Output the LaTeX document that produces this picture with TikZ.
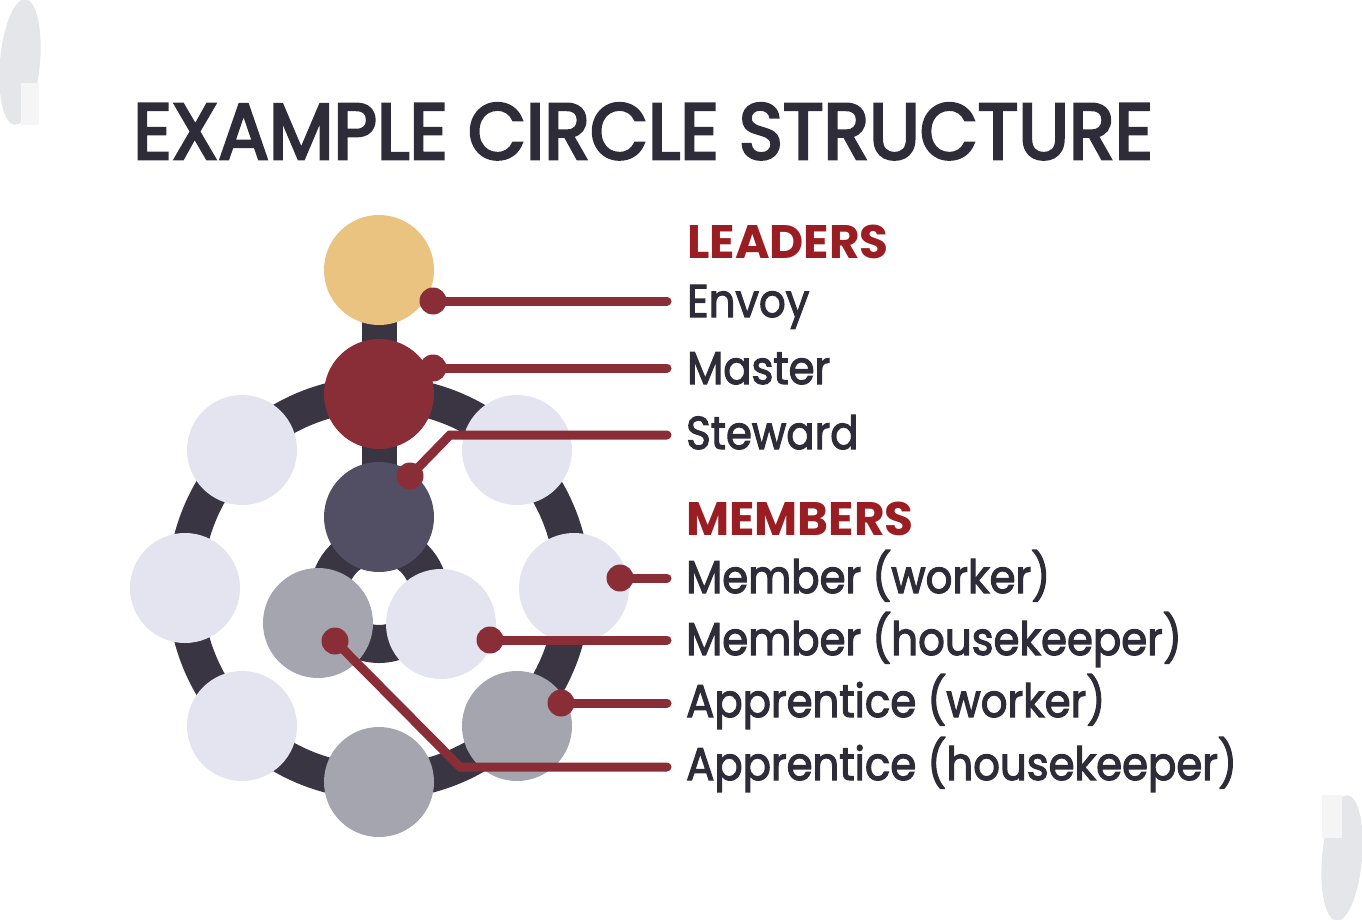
\documentclass[tikz,border=0pt]{standalone}
\usepackage{fontspec}
\setmainfont{Poppins}
\newfontfamily\titlefont{Poppins}[FakeStretch=0.95, FakeBold=3.5]
\newfontfamily\entryfont{Poppins}[FakeStretch=0.91, FakeBold=2.5]
\usetikzlibrary{backgrounds}

\definecolor{gold}{HTML}{EAC381}
\definecolor{crimson}{HTML}{892D36}
\definecolor{slate}{HTML}{524E64}
\definecolor{ringdark}{HTML}{3A3543}
\definecolor{pale}{HTML}{E4E4F0}
\definecolor{greyc}{HTML}{A5A5AF}
\definecolor{ink}{HTML}{2F2C39}
\definecolor{headred}{HTML}{9A1D23}
\definecolor{decogrey}{HTML}{E5E6E9}
\definecolor{decolight}{HTML}{F5F5F6}

\tikzset{
  person/.style={circle, minimum size=110, inner sep=0pt},
  dot/.style={circle, fill=crimson, minimum size=27, inner sep=0pt},
  leader/.style={draw=crimson, line width=9, line cap=round},
  entry/.style={anchor=base west, inner sep=0pt, text=ink, font=\entryfont\fontsize{46}{46}\selectfont},
  heading/.style={anchor=base west, inner sep=0pt, text=headred, font=\fontsize{47}{47}\selectfont\bfseries},
}

\begin{document}
\begin{tikzpicture}[x=1pt, y=-1pt]
  \useasboundingbox (0,0) rectangle (1362,920);

  % Corner shapes
  \fill[decogrey, rotate around={-5:(20,62)}] (20,62) ellipse [x radius=20, y radius=63];
  \fill[decolight] (20.5,83) rectangle (39,125);
  \fill[decogrey, rotate around={-5:(1342,858)}] (1342,858) ellipse [x radius=20, y radius=63];
  \fill[decolight] (1322,795) rectangle (1341.5,838);

  % Title
  \node[anchor=base west, inner sep=0pt, text=ink,
        font=\titlefont\fontsize{79}{79}\selectfont] (title) at (133,159) {EXAMPLE CIRCLE STRUCTURE};

  % Define nodes
  \coordinate (hub)  at (379,588);
  \coordinate (core) at (379,594);
  \node[person, fill=gold]    (envoy)   at (379,270) {};
  \node[person, fill=crimson] (master)  at (379,394) {};
  \node[person, fill=slate]   (steward) at (379,517) {};
  \node[person, fill=pale]    (ntl)     at (242,450) {};
  \node[person, fill=pale]    (ntr)     at (517,450) {};
  \node[person, fill=pale]    (nl)      at (185,588) {};
  \node[person, fill=pale]    (nr)      at (574,588) {};
  \node[person, fill=pale]    (nbl)     at (242,726) {};
  \node[person, fill=greyc]   (nbr)     at (517,726) {};
  \node[person, fill=greyc]   (nb)      at (379,782) {};
  \node[person, fill=greyc]   (il)      at (318,623) {};
  \node[person, fill=pale]    (ir)      at (441,624) {};

  % Rings and bar behind the circles
  \begin{scope}[on background layer]
    \draw[ringdark, line width=35] (hub) circle [radius=194];
    \draw[ringdark, line width=38] (core) circle [radius=50];
    \draw[ringdark, line width=35] (envoy.center) -- (steward.center);
  \end{scope}

  % Labels
  \node[heading] (leaders)  at (687,258) {LEADERS};
  \node[entry]   (envoylbl) at (687,317) {Envoy};
  \node[entry]   (masterlbl) at (687,384) {Master};
  \node[entry]   (stewardlbl) at (686,449) {Steward};
  \node[heading] (members)  at (686,535) {MEMBERS};
  \node[entry]   (mworkerlbl) at (686,593) {Member (worker)};
  \node[entry]   (mhouselbl) at (686,655) {Member (housekeeper)};
  \node[entry]   (aworkerlbl) at (686,717) {Apprentice (worker)};
  \node[entry]   (ahouselbl) at (686,780) {Apprentice (housekeeper)};

  % Leader dots and line ends
  \node[dot] (envoydot)   at (433,301) {};
  \node[dot] (masterdot)  at (433,368) {};
  \node[dot] (stewarddot) at (410,476) {};
  \node[dot] (mworkerdot) at (620,578) {};
  \node[dot] (mhousedot)  at (490,640) {};
  \node[dot] (aworkerdot) at (561,703) {};
  \node[dot] (ahousedot)  at (335,641) {};
  \coordinate (envoyend)   at (667,301);
  \coordinate (masterend)  at (667,368);
  \coordinate (stewardend) at (667,435);
  \coordinate (mworkerend) at (667,578);
  \coordinate (mhouseend)  at (667,640);
  \coordinate (aworkerend) at (667,703);
  \coordinate (ahouseend)  at (667,767);

  % Connect the nodes
  \draw[leader] (envoydot.center) -- (envoyend);
  \draw[leader] (masterdot.center) -- (masterend);
  \draw[leader] (stewarddot.center) -- (450,435) -- (stewardend);
  \draw[leader] (mworkerdot.center) -- (mworkerend);
  \draw[leader] (mhousedot.center) -- (mhouseend);
  \draw[leader] (aworkerdot.center) -- (aworkerend);
  \draw[leader] (ahousedot.center) -- (460,767) -- (ahouseend);
\end{tikzpicture}
\end{document}
